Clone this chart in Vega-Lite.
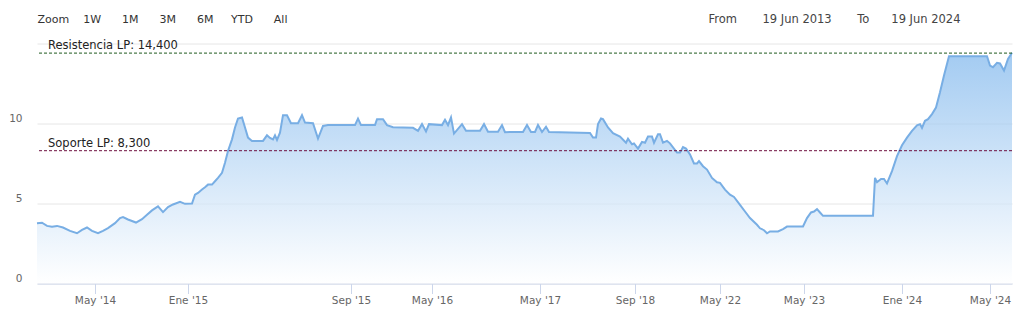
{
  "$schema": "https://vega.github.io/schema/vega-lite/v6.json",
  "width": 975,
  "height": 240,
  "autosize": {"type": "none"},
  "padding": {"left": 37, "top": 43.5, "right": 14, "bottom": 28.5},
  "background": "white",
  "config": {"view": {"stroke": null}, "font": "DejaVu Sans"},
  "datasets": {
    "series": [
      {"idx":0,"v":3.77},{"idx":5,"v":3.8},{"idx":10,"v":3.6},{"idx":15,"v":3.55},{"idx":20,"v":3.6},{"idx":26,"v":3.5},{"idx":33,"v":3.29},{"idx":40,"v":3.14},{"idx":45,"v":3.35},{"idx":50,"v":3.5},{"idx":55,"v":3.29},{"idx":61,"v":3.14},{"idx":66,"v":3.29},{"idx":71,"v":3.46},{"idx":78,"v":3.77},{"idx":83,"v":4.09},{"idx":86,"v":4.15},{"idx":91,"v":4.0},{"idx":99,"v":3.81},{"idx":105,"v":4.02},{"idx":110,"v":4.3},{"idx":115,"v":4.57},{"idx":121,"v":4.82},{"idx":126,"v":4.46},{"idx":131,"v":4.78},{"idx":136,"v":4.94},{"idx":143,"v":5.11},{"idx":148,"v":4.98},{"idx":155,"v":5.0},{"idx":158,"v":5.55},{"idx":161,"v":5.66},{"idx":165,"v":5.87},{"idx":168,"v":6.02},{"idx":171,"v":6.18},{"idx":175,"v":6.18},{"idx":178,"v":6.39},{"idx":181,"v":6.6},{"idx":185,"v":6.92},{"idx":188,"v":7.55},{"idx":191,"v":8.28},{"idx":195,"v":9.01},{"idx":198,"v":9.75},{"idx":201,"v":10.31},{"idx":205,"v":10.38},{"idx":208,"v":9.75},{"idx":211,"v":9.12},{"idx":215,"v":8.91},{"idx":220,"v":8.91},{"idx":226,"v":8.91},{"idx":230,"v":9.26},{"idx":233,"v":9.1},{"idx":236,"v":9.0},{"idx":238,"v":9.26},{"idx":240,"v":8.97},{"idx":243,"v":9.43},{"idx":246,"v":10.52},{"idx":250,"v":10.52},{"idx":254,"v":10.02},{"idx":261,"v":10.02},{"idx":265,"v":10.52},{"idx":268,"v":10.06},{"idx":276,"v":10.02},{"idx":281,"v":9.06},{"idx":286,"v":9.85},{"idx":291,"v":9.9},{"idx":318,"v":9.9},{"idx":321,"v":10.31},{"idx":324,"v":9.9},{"idx":338,"v":9.9},{"idx":340,"v":10.27},{"idx":346,"v":10.27},{"idx":350,"v":9.9},{"idx":356,"v":9.77},{"idx":376,"v":9.73},{"idx":381,"v":9.54},{"idx":385,"v":9.96},{"idx":389,"v":9.5},{"idx":392,"v":9.96},{"idx":405,"v":9.9},{"idx":408,"v":10.23},{"idx":411,"v":9.9},{"idx":414,"v":10.38},{"idx":417,"v":9.37},{"idx":425,"v":9.96},{"idx":429,"v":9.54},{"idx":443,"v":9.54},{"idx":447,"v":9.96},{"idx":451,"v":9.48},{"idx":461,"v":9.48},{"idx":465,"v":9.9},{"idx":468,"v":9.46},{"idx":486,"v":9.47},{"idx":490,"v":9.91},{"idx":494,"v":9.47},{"idx":498,"v":9.47},{"idx":501,"v":9.91},{"idx":505,"v":9.47},{"idx":509,"v":9.8},{"idx":512,"v":9.47},{"idx":553,"v":9.41},{"idx":556,"v":9.12},{"idx":559,"v":9.12},{"idx":561,"v":9.96},{"idx":564,"v":10.31},{"idx":566,"v":10.27},{"idx":571,"v":9.75},{"idx":576,"v":9.39},{"idx":583,"v":9.18},{"idx":589,"v":8.8},{"idx":591,"v":9.05},{"idx":595,"v":8.7},{"idx":597,"v":8.75},{"idx":601,"v":8.43},{"idx":605,"v":8.85},{"idx":608,"v":8.8},{"idx":611,"v":9.18},{"idx":615,"v":9.18},{"idx":617,"v":8.8},{"idx":621,"v":9.33},{"idx":623,"v":9.33},{"idx":626,"v":8.8},{"idx":630,"v":8.91},{"idx":633,"v":8.76},{"idx":640,"v":8.18},{"idx":643,"v":8.18},{"idx":646,"v":8.53},{"idx":649,"v":8.43},{"idx":653,"v":8.07},{"idx":657,"v":7.5},{"idx":660,"v":7.5},{"idx":662,"v":7.65},{"idx":666,"v":7.33},{"idx":670,"v":7.12},{"idx":675,"v":6.6},{"idx":680,"v":6.33},{"idx":683,"v":6.29},{"idx":688,"v":5.87},{"idx":693,"v":5.55},{"idx":697,"v":5.41},{"idx":703,"v":4.92},{"idx":708,"v":4.5},{"idx":713,"v":4.09},{"idx":720,"v":3.67},{"idx":723,"v":3.45},{"idx":727,"v":3.33},{"idx":730,"v":3.14},{"idx":733,"v":3.25},{"idx":741,"v":3.25},{"idx":746,"v":3.4},{"idx":750,"v":3.56},{"idx":766,"v":3.56},{"idx":770,"v":4.09},{"idx":774,"v":4.44},{"idx":777,"v":4.5},{"idx":780,"v":4.65},{"idx":783,"v":4.44},{"idx":786,"v":4.23},{"idx":836,"v":4.23},{"idx":838,"v":6.6},{"idx":840,"v":6.33},{"idx":844,"v":6.53},{"idx":847,"v":6.53},{"idx":850,"v":6.25},{"idx":855,"v":7.02},{"idx":860,"v":7.96},{"idx":865,"v":8.64},{"idx":870,"v":9.12},{"idx":875,"v":9.54},{"idx":880,"v":9.89},{"idx":883,"v":9.96},{"idx":885,"v":9.72},{"idx":888,"v":10.17},{"idx":891,"v":10.27},{"idx":895,"v":10.59},{"idx":899,"v":11.0},{"idx":903,"v":11.95},{"idx":907,"v":13.0},{"idx":912,"v":14.21},{"idx":950,"v":14.21},{"idx":953,"v":13.62},{"idx":956,"v":13.52},{"idx":960,"v":13.79},{"idx":963,"v":13.75},{"idx":967,"v":13.31},{"idx":971,"v":14.04},{"idx":975,"v":14.42}
    ],
    "levels": [
      {"label": "Resistencia LP: 14,400", "v": 14.4},
      {"label": "Soporte LP: 8,300", "v": 8.3}
    ]
  },
  "layer": [
    {
      "data": {"name": "series"},
      "mark": {
        "type": "area",
        "interpolate": "linear",
        "color": {
          "gradient": "linear",
          "x1": 0, "y1": 0, "x2": 0, "y2": 1,
          "stops": [
            {"offset": 0, "color": "#7cb5ec"},
            {"offset": 1, "color": "#ffffff"}
          ]
        },
        "line": {"color": "#78aee4", "strokeWidth": 2}
      },
      "encoding": {
        "x": {
          "field": "idx",
          "type": "quantitative",
          "scale": {"domain": [0, 975], "nice": false, "zero": false},
          "axis": {
            "values": [58, 151, 314, 395, 503, 598, 683, 767, 865, 953],
            "labelExpr": "datum.value==58?\"May '14\":datum.value==151?\"Ene '15\":datum.value==314?\"Sep '15\":datum.value==395?\"May '16\":datum.value==503?\"May '17\":datum.value==598?\"Sep '18\":datum.value==683?\"May '22\":datum.value==767?\"May '23\":datum.value==865?\"Ene '24\":\"May '24\"",
            "grid": false,
            "domainColor": "#ccd6eb",
            "tickColor": "#ccd6eb",
            "tickSize": 10,
            "labelPadding": 2,
            "labelColor": "#666666",
            "labelFontSize": 10.5,
            "labelFlush": false,
            "labelOverlap": false,
            "title": "From\u00a0\u00a0\u00a0\u00a0\u00a0\u00a0\u00a019 Jun 2013\u00a0\u00a0\u00a0\u00a0\u00a0\u00a0\u00a0To\u00a0\u00a0\u00a0\u00a0\u00a0\u00a019 Jun 2024",
            "titleX": 923,
            "titleY": -264.5,
            "titleAlign": "right",
            "titleBaseline": "middle",
            "titleFontSize": 11.5,
            "titleFontWeight": "normal",
            "titleColor": "#444444"
          }
        },
        "y": {
          "field": "v",
          "type": "quantitative",
          "scale": {"domain": [0, 15], "nice": false},
          "axis": {
            "values": [0, 5, 10, 15],
            "labelExpr": "datum.value==15?'':datum.label",
            "grid": true,
            "gridColor": "#e6e6e6",
            "domain": false,
            "ticks": false,
            "labelPadding": 15,
            "labelColor": "#666666",
            "labelFontSize": 10.5,
            "labelBaseline": "alphabetic",
            "labelOffset": -2,
            "title": "Zoom\u00a0\u00a0\u00a0\u00a01W\u00a0\u00a0\u00a0\u00a0\u00a0\u00a01M\u00a0\u00a0\u00a0\u00a0\u00a0\u00a03M\u00a0\u00a0\u00a0\u00a0\u00a0\u00a06M\u00a0\u00a0\u00a0\u00a0\u00a0YTD\u00a0\u00a0\u00a0\u00a0\u00a0\u00a0All",
            "titleAngle": 0,
            "titleX": 0,
            "titleY": -24.5,
            "titleAlign": "left",
            "titleBaseline": "middle",
            "titleFontSize": 11,
            "titleFontWeight": "normal",
            "titleColor": "#333333"
          }
        }
      }
    },
    {
      "data": {"name": "levels"},
      "mark": {"type": "rule", "strokeDash": [3, 2], "strokeWidth": 1},
      "encoding": {
        "y": {"field": "v", "type": "quantitative"},
        "color": {
          "field": "label",
          "type": "nominal",
          "scale": {"domain": ["Resistencia LP: 14,400", "Soporte LP: 8,300"], "range": ["#1e5a1e", "#6e1040"]},
          "legend": null
        }
      }
    },
    {
      "data": {"name": "levels"},
      "mark": {"type": "text", "align": "left", "baseline": "alphabetic", "dx": 11, "dy": -4, "fontSize": 11.5, "color": "#222222"},
      "encoding": {
        "x": {"datum": 0, "type": "quantitative"},
        "y": {"field": "v", "type": "quantitative"},
        "text": {"field": "label"}
      }
    }
  ]
}
